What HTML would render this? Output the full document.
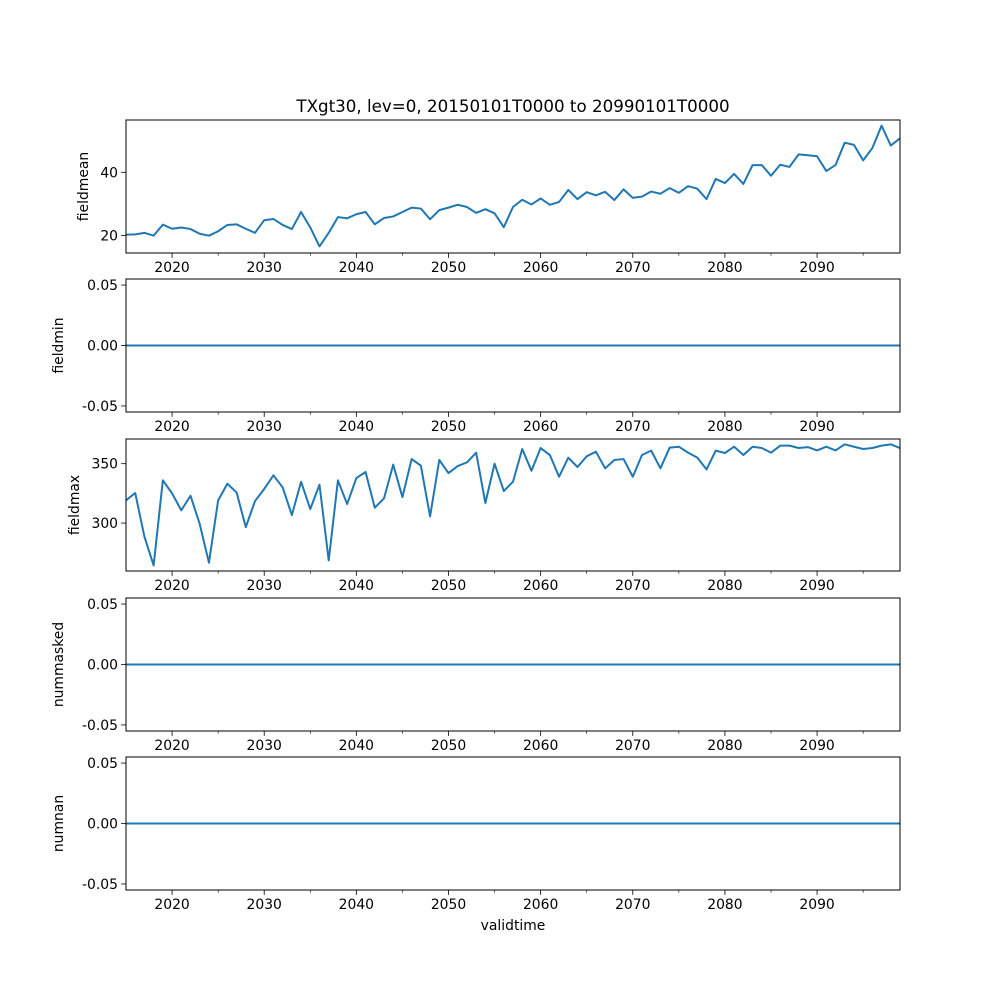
<!DOCTYPE html>
<html><head><meta charset="utf-8"><style>
body{margin:0;background:#fff;}
svg{display:block;font-family:"DejaVu Sans","Liberation Sans",sans-serif;}
</style></head><body>
<svg id="chart" width="1000" height="1000" viewBox="0 0 1000 1000" xmlns="http://www.w3.org/2000/svg">
<rect width="1000" height="1000" fill="#fff"/>
<text x="513" y="112" font-size="16.7" text-anchor="middle">TXgt30, lev=0, 20150101T0000 to 20990101T0000</text>
<text x="513" y="930" font-size="13.9" text-anchor="middle">validtime</text>
</svg>
<script>
const years = [];
for (let y = 2015; y <= 2099; y++) years.push(y);
const fieldmean = [20.2,20.3,20.8,19.9,23.4,22.1,22.5,22.0,20.5,19.9,21.3,23.3,23.5,22.1,20.8,24.8,25.2,23.3,22.0,27.4,22.5,16.5,20.8,25.8,25.4,26.7,27.4,23.5,25.5,26.0,27.4,28.8,28.5,25.1,28.0,28.8,29.7,29.0,27.1,28.3,27.0,22.6,29.0,31.3,29.8,31.7,29.7,30.6,34.4,31.5,33.7,32.7,33.8,31.2,34.6,31.9,32.3,33.9,33.2,35.0,33.5,35.6,34.8,31.5,37.9,36.6,39.5,36.3,42.3,42.3,38.9,42.4,41.7,45.7,45.4,45.1,40.4,42.3,49.4,48.7,43.8,47.7,54.8,48.5,50.8];
const fieldmax = [319.1,325.3,288.5,264.3,336.0,325.0,310.7,323.0,299.2,266.6,319.1,333.1,325.8,296.6,318.5,328.7,340.2,330.1,306.7,334.8,311.8,332.3,268.5,336.0,316.0,337.9,343.0,312.9,320.8,349.2,321.9,353.9,348.3,305.6,353.1,342.1,348.0,351.1,359.3,316.9,350.0,327.0,334.8,362.4,344.1,363.2,357.3,339.0,355.1,347.2,356.2,360.1,346.1,353.1,353.9,339.0,357.3,361.0,346.1,363.5,364.3,359.3,355.1,345.2,361.0,359.0,364.3,357.3,364.3,363.2,359.3,365.2,365.2,363.2,364.0,361.2,364.3,361.2,366.3,364.3,362.4,363.2,365.2,366.3,363.2];
const fieldmin = years.map(() => 0);
const nummasked = years.map(() => 0);
const numnan = years.map(() => 0);
const xMajorTicks = [2020,2030,2040,2050,2060,2070,2080,2090];
const xMinorTicks = [2025,2035,2045,2055,2065,2075,2085,2095];
const meanTicks = [20,40];
const maxTicks = [300,350];
const zeroTicks = [-0.05,0.00,0.05];

const svg = document.getElementById('chart');
const NS = 'http://www.w3.org/2000/svg';
const X0 = 126, X1 = 900;
const xScale = y => X0 + (y - 2015) / (2099 - 2015) * (X1 - X0);

function mk(tag, attrs, parent) {
  const e = document.createElementNS(NS, tag);
  for (const k in attrs) e.setAttribute(k, attrs[k]);
  (parent || svg).appendChild(e);
  return e;
}

const panels = [
  {name:'fieldmean', top:120, bot:253, vmin:14.4, vmax:56.6, vals:fieldmean, ticks:meanTicks, fmt:v=>String(v), lx:88},
  {name:'fieldmin', top:279, bot:412, vmin:-0.055, vmax:0.055, vals:fieldmin, ticks:zeroTicks, fmt:v=>v.toFixed(2), lx:63},
  {name:'fieldmax', top:439, bot:571, vmin:259.6, vmax:370.8, vals:fieldmax, ticks:maxTicks, fmt:v=>String(v), lx:79},
  {name:'nummasked', top:598, bot:731, vmin:-0.055, vmax:0.055, vals:nummasked, ticks:zeroTicks, fmt:v=>v.toFixed(2), lx:63},
  {name:'numnan', top:757, bot:890, vmin:-0.055, vmax:0.055, vals:numnan, ticks:zeroTicks, fmt:v=>v.toFixed(2), lx:63}
];

panels.forEach(p => {
  const g = mk('g', {});
  
  
  const ys = v => p.bot - (v - p.vmin) / (p.vmax - p.vmin) * (p.bot - p.top);
  const d = p.vals.map((v, i) => (i ? 'L' : 'M') + xScale(years[i]).toFixed(2) + ',' + ys(v).toFixed(2)).join('');
  const path = mk('path', {d:d, fill:'none', stroke:'#1f77b4', 'stroke-width':2, 'stroke-linejoin':'round'}, g);
  
  
  const fr = mk('rect', {x:X0, y:p.top, width:X1-X0, height:p.bot-p.top, fill:'none', stroke:'#000', 'stroke-width':1}, g);
  
  
  xMajorTicks.forEach(t => {
    const x = xScale(t);
    mk('line', {x1:x, x2:x, y1:p.bot, y2:p.bot+4.9, stroke:'#000', 'stroke-width':0.8}, g);
    const tx = mk('text', {x:x, y:p.bot+19, 'font-size':13.9, 'text-anchor':'middle'}, g);
    tx.textContent = t;
    
    
  });
  xMinorTicks.forEach(t => {
    const x = xScale(t);
    mk('line', {x1:x, x2:x, y1:p.bot, y2:p.bot+2.8, stroke:'#000', 'stroke-width':0.6}, g);
  });
  p.ticks.forEach(t => {
    const y = ys(t);
    mk('line', {x1:X0-4.9, x2:X0, y1:y, y2:y, stroke:'#000', 'stroke-width':0.8}, g);
    const tx = mk('text', {x:X0-8, y:y+5, 'font-size':13.9, 'text-anchor':'end'}, g);
    tx.textContent = p.fmt(t);
    
    
  });
  const cy = (p.top + p.bot) / 2;
  const lx = p.lx;
  const lab = mk('text', {x:lx, y:cy, 'font-size':13.9, 'text-anchor':'middle', transform:'rotate(-90 ' + lx + ' ' + cy + ')'}, g);
  lab.textContent = p.name;
  
  
});
</script>
</body></html>
